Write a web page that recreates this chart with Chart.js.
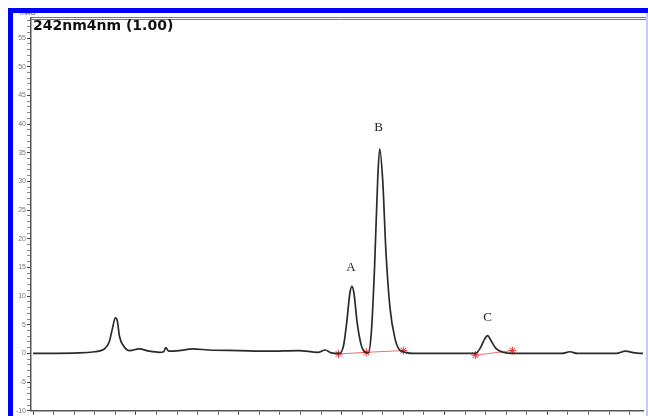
<!DOCTYPE html>
<html>
<head>
<meta charset="utf-8">
<script src="https://cdn.jsdelivr.net/npm/chart.js@4.4.1/dist/chart.umd.min.js"></script>
<style>
  html, body { margin: 0; padding: 0; background: #fff; }
  #wrap { position: relative; width: 648px; height: 416px; overflow: hidden; background: #fff; }
  #wrap canvas { position: absolute; left: 0; top: 0; }
  .frame-top { position: absolute; left: 8px; top: 8px; width: 640px; height: 5px; background: #0000ff; }
  .frame-left { position: absolute; left: 8px; top: 8px; width: 5px; height: 408px; background: #0000ff; }
  .frame-right { position: absolute; left: 646px; top: 13px; width: 2px; height: 403px; background: #c8c8ff; }
  .unit { position: absolute; left: 20px; top: 9px; font: 7px "Liberation Sans", Arial, sans-serif; color: #555; }
  .title { position: absolute; left: 33px; top: 17px; font: bold 14px "DejaVu Sans", sans-serif; color: #111; }
</style>
</head>
<body>
<div id="wrap">
  <canvas id="chrom" width="648" height="416"></canvas>
  <div class="unit">mAU</div>
  <div class="frame-top"></div>
  <div class="frame-left"></div>
  <div class="frame-right"></div>
  <div class="title">242nm4nm (1.00)</div>
</div>
<script>
// ---- chromatogram trace (time, min / absorbance, mAU) ----
const times = [0.00, 0.45, 0.60, 0.66, 0.70, 0.74, 0.77, 0.80, 0.82, 0.84, 0.88, 0.94, 1.03, 1.13, 1.23, 1.27,
  1.29, 1.32, 1.42, 1.55, 1.71, 2.00, 2.29, 2.58, 2.77, 2.84, 2.90, 2.98, 3.02, 3.05, 3.08, 3.10,
  3.12, 3.15, 3.19, 3.23, 3.26, 3.29, 3.32, 3.35, 3.37, 3.40, 3.43, 3.47, 3.52, 3.56, 3.62, 3.70,
  4.30, 4.35, 4.39, 4.42, 4.45, 4.50, 4.57, 4.66, 5.14, 5.22, 5.29, 5.67, 5.76, 5.85, 5.93];
const absorbance = [0.0, 0.1, 0.3, 0.5, 0.9, 2.0, 4.2, 6.2, 5.6, 3.0, 1.3, 0.5, 0.8, 0.4, 0.2, 0.3,
  1.0, 0.4, 0.5, 0.8, 0.6, 0.5, 0.4, 0.5, 0.2, 0.6, 0.1, 0.0, 1.5, 5.5, 10.5, 11.7,
  10.5, 5.5, 1.5, 0.2, 0.1, 4.0, 15.0, 30.0, 35.7, 30.0, 18.0, 8.0, 2.5, 0.7, 0.2, 0.0,
  0.0, 1.0, 2.5, 3.1, 2.3, 0.9, 0.2, 0.0, 0.0, 0.3, 0.0, 0.0, 0.4, 0.1, 0.0];

// ---- integration baselines (red) and their start/end marks ----
const baseTimes  = [2.97, 3.24, 3.60, 3.90, 4.30, 4.66];
const baseLevels = [-0.1, 0.2, 0.5, null, -0.3, 0.5];

// ---- peak labels ----
const peakNames  = ['A', 'B', 'C'];
const peakTimes  = [3.09, 3.36, 4.42];
const peakLabelY = [15.0, 39.4, 6.3];

// ---- axes ----
const yMajorTicks = [-10, -5, 0, 5, 10, 15, 20, 25, 30, 35, 40, 45, 50, 55];
const xMajorTicks = [0, 1, 2, 3, 4, 5];

const traceData = times.map((t, i) => ({ x: t, y: absorbance[i] }));
const baseData = baseTimes.map((t, i) => ({ x: t, y: baseLevels[i] }));

// рамка осей та підписи піків
const framePlugin = {
  id: 'frame',
  afterDraw(chart) {
    const { ctx, chartArea: a, scales } = chart;
    ctx.save();
    // подвійна лінія зверху
    ctx.strokeStyle = '#777';
    ctx.lineWidth = 1;
    ctx.beginPath();
    ctx.moveTo(a.left, 17.5); ctx.lineTo(648, 17.5);
    ctx.moveTo(a.left, 19.5); ctx.lineTo(648, 19.5);
    ctx.stroke();
    // підписи піків
    ctx.fillStyle = '#222';
    ctx.font = '13px "Liberation Serif", "Times New Roman", serif';
    ctx.textAlign = 'center';
    ctx.textBaseline = 'middle';
    peakNames.forEach((n, i) => {
      ctx.fillText(n, scales.x.getPixelForValue(peakTimes[i]), scales.y.getPixelForValue(peakLabelY[i]));
    });
    ctx.restore();
  }
};

new Chart(document.getElementById('chrom'), {
  type: 'scatter',
  data: {
    datasets: [
      {
        data: baseData,
        showLine: true,
        spanGaps: false,
        borderColor: '#f07070',
        borderWidth: 1,
        pointStyle: 'star',
        pointRadius: 4,
        pointBorderColor: '#e83030',
        pointBorderWidth: 1,
        order: 2
      },
      {
        data: traceData,
        showLine: true,
        borderColor: '#2a2a2a',
        borderWidth: 1.7,
        pointRadius: 0,
        cubicInterpolationMode: 'monotone',
        order: 1
      }
    ]
  },
  options: {
    responsive: false,
    animation: false,
    layout: { padding: { top: 18, right: 1, left: 0, bottom: 0 } },
    plugins: { legend: { display: false }, tooltip: { enabled: false } },
    scales: {
      x: {
        type: 'linear',
        min: -0.02,
        max: 5.93,
        afterBuildTicks(scale) {
          const t = [];
          for (let k = 0; k <= 29; k++) t.push({ value: k / 5 });
          scale.ticks = t;
        },
        afterFit(scale) { scale.height = 4; },
        ticks: { display: false },
        grid: {
          drawOnChartArea: false,
          tickLength: 4,
          tickColor: (c) => (xMajorTicks.includes(Math.round(c.tick.value * 5) / 5) ? '#333' : '#666')
        },
        border: { color: '#555', width: 1.5 }
      },
      y: {
        min: -10,
        max: 58.5,
        afterBuildTicks(scale) {
          const t = [];
          for (let v = -10; v <= 58; v++) t.push({ value: v });
          scale.ticks = t;
        },
        afterFit(scale) { scale.width = 31; },
        ticks: {
          autoSkip: false,
          padding: 1,
          color: '#777',
          font: { size: 7, family: 'Liberation Sans' },
          callback: (v) => (yMajorTicks.includes(v) ? String(v) : '')
        },
        grid: {
          drawOnChartArea: false,
          tickLength: 4,
          tickColor: (c) => (yMajorTicks.includes(c.tick.value) ? '#444' : '#888')
        },
        border: { color: '#555', width: 1.5 }
      }
    }
  },
  plugins: [framePlugin]
});
</script>
</body>
</html>
